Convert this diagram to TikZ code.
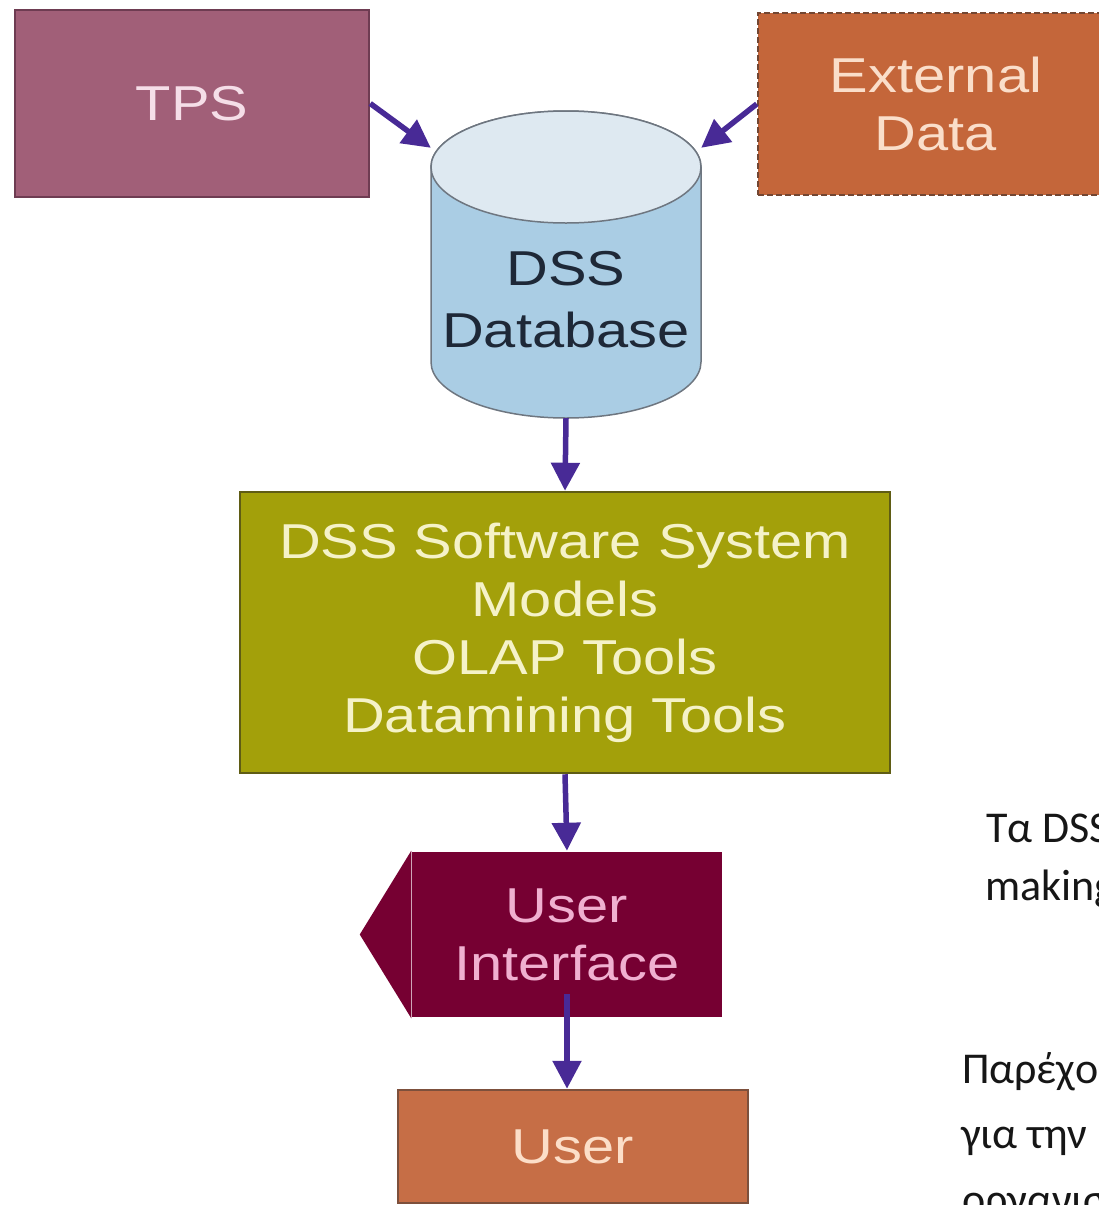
\documentclass[tikz,border=0pt]{standalone}
\usepackage{fontspec}
\newfontfamily\diagfont[FakeStretch=1.18]{Liberation Sans}
\newfontfamily\notefont{Carlito}
\usepackage{tikz}
\usetikzlibrary{positioning, calc, arrows.meta}
\definecolor{tpsfill}{RGB}{161,95,120}
\definecolor{tpsline}{RGB}{110,60,82}
\definecolor{tpstext}{RGB}{245,222,232}
\definecolor{extfill}{RGB}{196,102,58}
\definecolor{extline}{RGB}{115,70,50}
\definecolor{exttext}{RGB}{250,222,202}
\definecolor{dbbody}{RGB}{170,205,228}
\definecolor{dbtop}{RGB}{222,233,241}
\definecolor{dbline}{RGB}{110,118,128}
\definecolor{dbtext}{RGB}{30,40,55}
\definecolor{sysfill}{RGB}{163,160,10}
\definecolor{sysline}{RGB}{95,92,20}
\definecolor{systext}{RGB}{245,242,200}
\definecolor{uifill}{RGB}{118,0,50}
\definecolor{uitext}{RGB}{240,176,208}
\definecolor{userfill}{RGB}{198,110,70}
\definecolor{userline}{RGB}{125,80,60}
\definecolor{usertext}{RGB}{252,222,200}
\definecolor{flowcol}{RGB}{72,42,150}
\definecolor{notecol}{RGB}{22,22,22}

\begin{document}
\begin{tikzpicture}[x=1pt, y=-1pt,
	box/.style={rectangle, line width=2.5pt, align=center, inner sep=0pt, font=\diagfont\fontsize{49}{58}\selectfont},
	flow/.style={line width=5.5pt, draw=flowcol, -{Triangle[width=28pt,length=28pt]}},
	note/.style={anchor=base west, inner sep=0pt, text=notecol, font=\notefont\fontsize{44}{53}\selectfont}]
	\useasboundingbox (0,0) rectangle (1099,1205);
	\clip (0,0) rectangle (1099,1205);
	\node[box, fill=tpsfill, draw=tpsline, text=tpstext, minimum width=354pt, minimum height=187pt] (tps) at (192,103.5) {TPS};
	\node[box, fill=extfill, draw=extline, dash pattern=on 6pt off 3pt, text=exttext, minimum width=356pt, minimum height=182pt] (ext) at (936,104) {External\\Data};
	\node[minimum width=270pt, minimum height=307pt, inner sep=0pt] (db) at (566,264.5) {};
	\filldraw[fill=dbbody, draw=dbline, line width=1.5pt] (431,167) -- (431,362) arc[start angle=180, end angle=360, x radius=135pt, y radius=56pt] -- (701,167) arc[start angle=0, end angle=180, x radius=135pt, y radius=56pt] -- cycle;
	\filldraw[fill=dbtop, draw=dbline, line width=1.5pt] (566,167) ellipse[x radius=135pt, y radius=56pt];
	\node[box, text=dbtext] (dbname) at (566,300) {DSS\\[4pt]Database};
	\node[box, fill=sysfill, draw=sysline, text=systext, minimum width=650pt, minimum height=281pt] (sys) at (565,632.5) {DSS Software System\\Models\\OLAP Tools\\Datamining Tools};
	\node[box, fill=uifill, text=uitext, minimum width=310pt, minimum height=165pt] (ui) at (567,934.5) {User\\Interface};
	\fill[uifill] ([xshift=0.5pt]ui.north west) -- ([xshift=-51pt]ui.west) -- ([xshift=0.5pt]ui.south west) -- cycle;
	\node[box, fill=userfill, draw=userline, text=usertext, minimum width=350pt, minimum height=113pt] (user) at (573,1146.5) {User};
	\draw[flow] (tps.east) -- ([yshift=-37pt]db.north west);
	\draw[flow] (ext.west) -- ([yshift=-37pt]db.north east);
	\foreach \from/\to in {db/sys,sys/ui}
		\draw[flow] (\from.south) -- (\to.north);
	\draw[flow] ([yshift=24pt]ui.south) -- (ui.south |- user.north);
	\node[note] (n1) at (986,842) {Τα DSS};
	\node[note] (n2) at (985,900) {making};
	\node[note] (n3) at (962,1083) {Παρέχο};
	\node[note] (n4) at (961,1148) {για την};
	\node[note] (n5) at (962,1214) {οργανισ};
\end{tikzpicture}
\end{document}
